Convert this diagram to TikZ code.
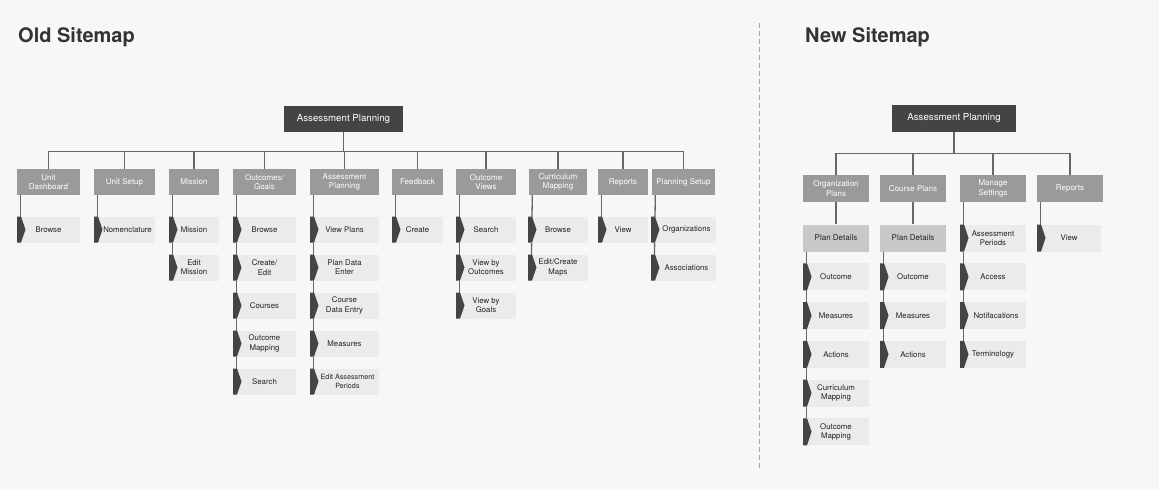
\documentclass[tikz,border=0pt]{standalone}
\usepackage{fontspec}
\setmainfont{TeX Gyre Heros}
\pgfdeclarelayer{bgfill}
\pgfdeclarelayer{lines}
\pgfsetlayers{bgfill,lines,main}
\definecolor{pagebg}{HTML}{F7F7F7}
\definecolor{rootfill}{HTML}{444444}
\definecolor{lvlfill}{HTML}{9A9A9A}
\definecolor{childfill}{HTML}{EBEBEB}
\definecolor{pdfill}{HTML}{C8C8C8}
\definecolor{chev}{HTML}{444444}
\definecolor{lncol}{HTML}{666666}
\definecolor{txt}{HTML}{222222}
\definecolor{titlecol}{HTML}{333333}
\definecolor{dashcol}{HTML}{A8A8A8}
\tikzset{
  rootbox/.style={rectangle, fill=rootfill, text=white, inner sep=0, minimum height=26, font=\fontsize{9.7}{11}\selectfont},
  lvlbox/.style={rectangle, fill=lvlfill, text=white, inner sep=0, minimum height=26, align=center, font=\fontsize{8}{9.6}\selectfont},
  leafbox/.style={rectangle, fill=childfill, text=txt, inner sep=0, minimum height=26, align=center, font=\fontsize{7.8}{9.4}\selectfont,
    path picture={\fill[chev] (path picture bounding box.north west) -- ([xshift=4pt]path picture bounding box.north west) -- ([xshift=8.5pt]path picture bounding box.west) -- ([xshift=4pt]path picture bounding box.south west) -- (path picture bounding box.south west) -- cycle;}},
  pdbox/.style={rectangle, fill=pdfill, text=txt, inner sep=0, minimum height=27, font=\fontsize{8}{9.6}\selectfont},
  ln/.style={draw=lncol, line width=1.3pt},
  sitetitle/.style={anchor=base west, inner sep=0, text=titlecol, font=\fontsize{20}{24}\selectfont\bfseries},
  divider/.style={draw=dashcol, line width=1pt, dash pattern=on 5pt off 3pt}
}
\begin{document}
\begin{tikzpicture}[x=1pt,y=-1pt]
\useasboundingbox (0,0) rectangle (1159,490);
\begin{pgfonlayer}{bgfill}
\fill[pagebg] (0,0) rectangle (1159,490);
\end{pgfonlayer}

% titles
\node[sitetitle] (toldt) at (18,42) {Old Sitemap};
\node[sitetitle] (tnewt) at (805,42) {New Sitemap};
\coordinate (dtop) at (759,23);
\coordinate (dbot) at (759,468);
\draw[divider] (dtop) -- (dbot);

% ---------------- Old sitemap ----------------
\node[rootbox, minimum width=119] (oroot) at (343.5,119) {Assessment Planning};

\node[lvlbox, minimum width=63] (ud) at (48.5,182) {Unit\\Dashboard};
\node[lvlbox, minimum width=61] (us) at (124.5,182) {Unit Setup};
\node[lvlbox, minimum width=50] (mi) at (194,182) {Mission};
\node[lvlbox, minimum width=63] (og) at (264.5,182) {Outcomes/\\Goals};
\node[lvlbox, minimum width=69] (ap) at (344.5,182) {Assessment\\Planning};
\node[lvlbox, minimum width=51] (fb) at (417.5,182) {Feedback};
\node[lvlbox, minimum width=60] (ov) at (486,182) {Outcome\\Views};
\node[lvlbox, minimum width=58] (cm) at (558,182) {Curriculum\\Mapping};
\node[lvlbox, minimum width=50] (rp) at (623,182) {Reports};
\node[lvlbox, minimum width=63] (ps) at (683.5,182) {Planning Setup};

\node[leafbox, minimum width=63] (ud1) at (48.5,229.5) {Browse};
\node[leafbox, minimum width=61] (us1) at (124.5,229.5) {\hspace*{6pt}Nomenclature};
\node[leafbox, minimum width=50] (mi1) at (194,229.5) {Mission};
\node[leafbox, minimum width=50] (mi2) at (194,267.5) {Edit\\Mission};
\node[leafbox, minimum width=63] (og1) at (264.5,229.5) {Browse};
\node[leafbox, minimum width=63] (og2) at (264.5,267.5) {Create/\\Edit};
\node[leafbox, minimum width=63] (og3) at (264.5,305.5) {Courses};
\node[leafbox, minimum width=63] (og4) at (264.5,343.5) {Outcome\\Mapping};
\node[leafbox, minimum width=63] (og5) at (264.5,381.5) {Search};
\node[leafbox, minimum width=69] (ap1) at (344.5,229.5) {View Plans};
\node[leafbox, minimum width=69] (ap2) at (344.5,267.5) {Plan Data\\Enter};
\node[leafbox, minimum width=69] (ap3) at (344.5,305.5) {Course\\Data Entry};
\node[leafbox, minimum width=69] (ap4) at (344.5,343.5) {Measures};
\node[leafbox, minimum width=69, font=\fontsize{7.2}{9}\selectfont] (ap5) at (344.5,381.5) {\hspace*{6pt}Edit Assessment\\\hspace*{6pt}Periods};
\node[leafbox, minimum width=51] (fb1) at (417.5,229.5) {Create};
\node[leafbox, minimum width=60] (ov1) at (486,229.5) {Search};
\node[leafbox, minimum width=60] (ov2) at (486,267.5) {View by\\Outcomes};
\node[leafbox, minimum width=60] (ov3) at (486,305.5) {View by\\Goals};
\node[leafbox, minimum width=60] (cm1) at (558,229.5) {Browse};
\node[leafbox, minimum width=60] (cm2) at (558,267.5) {Edit/Create\\Maps};
\node[leafbox, minimum width=50] (rp1) at (623,229.5) {View};
\node[leafbox, minimum width=65] (ps1) at (683.5,229.5) {\hspace*{6pt}Organizations};
\node[leafbox, minimum width=65] (ps2) at (683.5,267.5) {\hspace*{6pt}Associations};

% ---------------- New sitemap ----------------
\node[rootbox, minimum width=124, minimum height=27] (nroot) at (954,118.5) {Assessment Planning};

\node[lvlbox, minimum width=66, minimum height=27] (opl) at (836,188.5) {Organization\\Plans};
\node[lvlbox, minimum width=66, minimum height=27] (cpl) at (913,188.5) {Course Plans};
\node[lvlbox, minimum width=66, minimum height=27] (ms) at (993,188.5) {Manage\\Settings};
\node[lvlbox, minimum width=66, minimum height=27] (nrp) at (1070,188.5) {Reports};

\node[pdbox, minimum width=66] (opd) at (836,238) {Plan Details};
\node[pdbox, minimum width=66] (cpd) at (913,238) {Plan Details};

\node[leafbox, minimum width=66, minimum height=27] (oc1) at (836,276.75) {Outcome};
\node[leafbox, minimum width=66, minimum height=27] (oc2) at (836,315.5) {Measures};
\node[leafbox, minimum width=66, minimum height=27] (oc3) at (836,354.25) {Actions};
\node[leafbox, minimum width=66, minimum height=27] (oc4) at (836,393) {Curriculum\\Mapping};
\node[leafbox, minimum width=66, minimum height=27] (oc5) at (836,431.75) {Outcome\\Mapping};

\node[leafbox, minimum width=66, minimum height=27] (cc1) at (913,276.75) {Outcome};
\node[leafbox, minimum width=66, minimum height=27] (cc2) at (913,315.5) {Measures};
\node[leafbox, minimum width=66, minimum height=27] (cc3) at (913,354.25) {Actions};

\node[leafbox, minimum width=66, minimum height=27] (ms1) at (993,238) {Assessment\\Periods};
\node[leafbox, minimum width=66, minimum height=27] (ms2) at (993,276.75) {Access};
\node[leafbox, minimum width=66, minimum height=27] (ms3) at (993,315.5) {\hspace*{6pt}Notifacations};
\node[leafbox, minimum width=66, minimum height=27] (ms4) at (993,354.25) {Terminology};

\node[leafbox, minimum width=64, minimum height=27] (nv1) at (1069,238) {View};

% ---------------- connectors ----------------
\begin{pgfonlayer}{lines}
\foreach \c in {ud,us,mi,og,ap,fb,ov,cm,rp,ps}
  \draw[ln] (oroot.south) -- ++(0,19) -| (\c.north);
\draw[ln] ([xshift=3.5pt]ud.south west) -- ([xshift=3.5pt]ud1.west);
\draw[ln] ([xshift=3.5pt]us.south west) -- ([xshift=3.5pt]us1.west);
\draw[ln] ([xshift=3.5pt]mi.south west) -- ([xshift=3.5pt]mi2.west);
\draw[ln] ([xshift=3.5pt]og.south west) -- ([xshift=3.5pt]og5.west);
\draw[ln] ([xshift=3.5pt]ap.south west) -- ([xshift=3.5pt]ap5.west);
\draw[ln] ([xshift=3.5pt]fb.south west) -- ([xshift=3.5pt]fb1.west);
\draw[ln] ([xshift=3.5pt]ov.south west) -- ([xshift=3.5pt]ov3.west);
\draw[ln] ([xshift=3.5pt]cm.south west) -- ([xshift=3.5pt]cm2.west);
\draw[ln] ([xshift=3.5pt]rp.south west) -- ([xshift=3.5pt]rp1.west);
\draw[ln] ([xshift=3.5pt]ps.south west) -- ([xshift=3.5pt]ps2.west);

\foreach \c in {opl,cpl,ms,nrp}
  \draw[ln] (nroot.south) -- ++(0,21) -| (\c.north);
\draw[ln] (opl.south) -- (opd.north);
\draw[ln] (cpl.south) -- (cpd.north);
\draw[ln] ([xshift=3.5pt]opd.south west) -- ([xshift=3.5pt]oc5.west);
\draw[ln] ([xshift=3.5pt]cpd.south west) -- ([xshift=3.5pt]cc3.west);
\draw[ln] ([xshift=3.5pt]ms.south west) -- ([xshift=3.5pt]ms4.west);
\draw[ln] ([xshift=3.5pt]nrp.south west) -- ([xshift=3.5pt]nv1.west);
\end{pgfonlayer}
\end{tikzpicture}
\end{document}
